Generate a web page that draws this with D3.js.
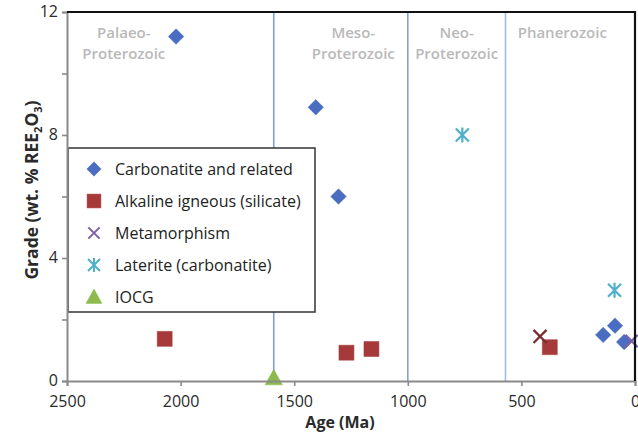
<!DOCTYPE html>
<html>
<head>
<meta charset="utf-8">
<script src="https://cdn.jsdelivr.net/npm/d3@7"></script>
<style>
  body { margin: 0; background: #fff; }
  text { font-family: "Open Sans", sans-serif; }
</style>
</head>
<body>
<div id="chart"></div>
<script>
// data (age in Ma, grade in wt. % REE2O3)
const carbAge = [2020, 1405, 1305, 140, 88, 48];
const carbGrade = [11.2, 8.9, 6.0, 1.5, 1.8, 1.27];
const alkAge = [2070, 1270, 1160, 375];
const alkGrade = [1.37, 0.92, 1.04, 1.1];
const metaAge = [15];
const metaGrade = [1.3];
const latAge = [760, 90];
const latGrade = [8.0, 2.95];
const iocgAge = [1590];
const iocgGrade = [0.1];
// dark X next to the Palaeozoic square (not in legend)
const otherAge = [418];
const otherGrade = [1.45];

const boundaries = [1590, 1000, 570];
const boundaryColors = ["#7f9be0", "#8c9fc6", "#9fbde3"];
const periodNames = [["Palaeo-", "Proterozoic"], ["Meso-", "Proterozoic"], ["Neo-", "Proterozoic"], ["Phanerozoic"]];
const periodPos = [2250, 1240, 785, 320];

const xTicks = [2500, 2000, 1500, 1000, 500, 0];
const yTicks = [0, 2, 4, 6, 8, 10, 12];
const yLabels = [0, 4, 8, 12];

const width = 638;
const height = 439;

// marker shapes (Excel style)
const diamond = {draw(ctx, size) {
    const r = Math.sqrt(size) / 2;
    ctx.moveTo(0, -r); ctx.lineTo(r, 0); ctx.lineTo(0, r); ctx.lineTo(-r, 0); ctx.closePath();
}};
const square = {draw(ctx, size) {
    const r = Math.sqrt(size) / 2;
    ctx.rect(-r, -r, 2 * r, 2 * r);
}};
const triangle = {draw(ctx, size) {
    const r = Math.sqrt(size) / 2;
    ctx.moveTo(0, -r); ctx.lineTo(r, r * 0.8); ctx.lineTo(-r, r * 0.8); ctx.closePath();
}};
const cross = {draw(ctx, size) {
    const r = Math.sqrt(size) / 2;
    ctx.moveTo(-r, -r); ctx.lineTo(r, r); ctx.moveTo(-r, r); ctx.lineTo(r, -r);
}};
const asterisk = {draw(ctx, size) {
    const r = Math.sqrt(size) / 2;
    ctx.moveTo(-r, -r); ctx.lineTo(r, r); ctx.moveTo(-r, r); ctx.lineTo(r, -r);
    ctx.moveTo(0, -r * 1.15); ctx.lineTo(0, r * 1.15);
}};

const series = [
    {name: "Carbonatite and related", age: carbAge, grade: carbGrade, type: diamond, size: 240, color: "#4a6cc1", fill: true},
    {name: "Alkaline igneous (silicate)", age: alkAge, grade: alkGrade, type: square, size: 225, color: "#a63a3a", fill: true},
    {name: "Metamorphism", age: metaAge, grade: metaGrade, type: cross, size: 150, color: "#7b61a8", fill: false},
    {name: "Laterite (carbonatite)", age: latAge, grade: latGrade, type: asterisk, size: 170, color: "#4fb0cc", fill: false},
    {name: "IOCG", age: iocgAge, grade: iocgGrade, type: triangle, size: 300, color: "#8dba4c", fill: true},
    {name: null, age: otherAge, grade: otherGrade, type: cross, size: 170, color: "#7a2b2e", fill: false}
];

const svg = d3.select("#chart").append("svg")
    .attr("width", width)
    .attr("height", height);

const x = d3.scaleLinear().domain([2500, 0]).range([67, 635]);
const y = d3.scaleLinear().domain([0, 12]).range([381, 12]);

// period boundaries
svg.append("g").selectAll("line")
    .data(boundaries)
    .join("line")
    .attr("x1", d => x(d)).attr("x2", d => x(d))
    .attr("y1", y(12)).attr("y2", y(0))
    .attr("stroke", (d, i) => boundaryColors[i])
    .attr("stroke-width", 1.6);

// period labels
const pl = svg.append("g").selectAll("text")
    .data(periodNames)
    .join("text")
    .attr("x", (d, i) => x(periodPos[i]))
    .attr("y", 38)
    .attr("text-anchor", "middle")
    .attr("font-size", 15)
    .attr("font-weight", 600)
    .attr("fill", "#b9b9b9");
pl.selectAll("tspan")
    .data(d => d)
    .join("tspan")
    .attr("x", function() { return this.parentNode.getAttribute("x"); })
    .attr("dy", (d, i) => i === 0 ? 0 : 21)
    .text(d => d);

// points
series.forEach(s => {
    const sym = d3.symbol().type(s.type).size(s.size);
    svg.append("g").selectAll("path")
        .data(s.age.map((a, i) => ({age: a, grade: s.grade[i]})))
        .join("path")
        .attr("transform", d => `translate(${x(d.age)},${y(d.grade)})`)
        .attr("d", sym)
        .attr("fill", s.fill ? s.color : "none")
        .attr("stroke", s.color)
        .attr("stroke-width", s.fill ? 0.5 : 2.2);
});

// legend
const legend = svg.append("g");
legend.append("rect")
    .attr("x", 68).attr("y", 148)
    .attr("width", 247).attr("height", 164)
    .attr("fill", "#fff")
    .attr("stroke", "#333")
    .attr("stroke-width", 1.5);
const items = legend.selectAll("g")
    .data(series.filter(s => s.name))
    .join("g")
    .attr("transform", (d, i) => `translate(94,${169 + i * 32})`);
items.append("path")
    .attr("d", d => d3.symbol().type(d.type).size(d.size * 0.85)())
    .attr("fill", d => d.fill ? d.color : "none")
    .attr("stroke", d => d.color)
    .attr("stroke-width", d => d.fill ? 0.5 : 2);
items.append("text")
    .attr("x", 21)
    .attr("y", 6)
    .attr("font-size", 16)
    .attr("fill", "#222")
    .text(d => d.name);

// axes
const xAxis = svg.append("g")
    .attr("transform", `translate(0,${y(0)})`)
    .call(d3.axisBottom(x).tickValues(xTicks).tickSize(5).tickPadding(10).tickFormat(d3.format("d")));
const yAxis = svg.append("g")
    .attr("transform", `translate(${x(2500)},0)`)
    .call(d3.axisLeft(y).tickValues(yTicks).tickSize(5).tickPadding(4)
        .tickFormat(d => yLabels.includes(d) ? d : ""));
[xAxis, yAxis].forEach(ax => {
    ax.select(".domain").attr("stroke", "#8a8a8a").attr("stroke-width", 2);
    ax.selectAll(".tick line").attr("stroke", "#8a8a8a").attr("stroke-width", 1.6);
    ax.selectAll(".tick text")
        .attr("font-family", "Open Sans, sans-serif")
        .attr("font-size", 16)
        .attr("fill", "#2a2a2a");
});
yAxis.selectAll(".tick text").attr("dy", "0.3em");

// top and right frame
svg.append("path")
    .attr("d", `M${x(2500)},${y(12)}H${x(0)}V${y(0)}`)
    .attr("fill", "none")
    .attr("stroke", "#111")
    .attr("stroke-width", 2.2);

// axis titles
svg.append("text")
    .attr("x", 340).attr("y", 428)
    .attr("text-anchor", "middle")
    .attr("font-size", 16)
    .attr("font-weight", 700)
    .attr("fill", "#2a2a2a")
    .text("Age (Ma)");

const yt = svg.append("text")
    .attr("transform", "translate(38,190) rotate(-90)")
    .attr("text-anchor", "middle")
    .attr("font-size", 17.5)
    .attr("font-weight", 700)
    .attr("fill", "#2a2a2a");
yt.append("tspan").text("Grade (wt. % REE");
yt.append("tspan").attr("font-size", 11).attr("dy", 4).text("2");
yt.append("tspan").attr("dy", -4).text("O");
yt.append("tspan").attr("font-size", 11).attr("dy", 4).text("3");
yt.append("tspan").attr("dy", -4).text(")");
</script>
</body>
</html>
